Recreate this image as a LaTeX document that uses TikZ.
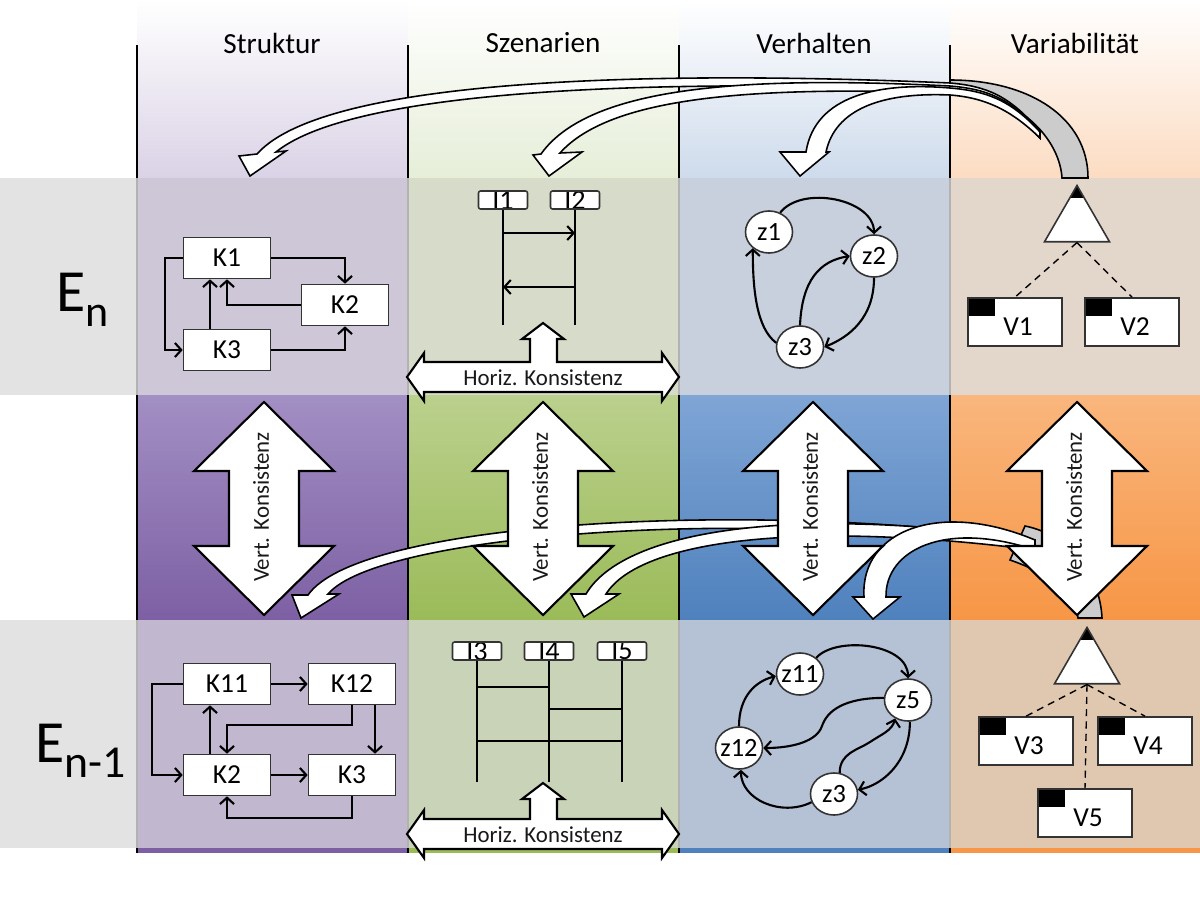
\documentclass[tikz,border=0pt]{standalone}
\usepackage{fontspec}
\setmainfont{Carlito}
\usetikzlibrary{arrows.meta,shapes.geometric}

% column colours: h = header, e = row E_n, t/m = middle band, f = row E_n-1
\definecolor{hpur}{RGB}{218,210,230}
\definecolor{hgrn}{RGB}{230,238,216}
\definecolor{hblu}{RGB}{206,219,236}
\definecolor{hora}{RGB}{252,220,194}
\definecolor{epur}{RGB}{206,199,216}
\definecolor{egrn}{RGB}{214,220,201}
\definecolor{eblu}{RGB}{200,208,221}
\definecolor{eora}{RGB}{227,214,203}
\definecolor{tpur}{RGB}{162,143,195}
\definecolor{tgrn}{RGB}{186,208,141}
\definecolor{tblu}{RGB}{127,165,213}
\definecolor{tora}{RGB}{249,182,125}
\definecolor{mpur}{RGB}{125,96,164}
\definecolor{mgrn}{RGB}{155,187,89}
\definecolor{mblu}{RGB}{79,129,189}
\definecolor{mora}{RGB}{247,150,70}
\definecolor{fpur}{RGB}{193,184,208}
\definecolor{fgrn}{RGB}{201,211,183}
\definecolor{fblu}{RGB}{181,194,214}
\definecolor{fora}{RGB}{224,199,175}
\definecolor{rowgray}{RGB}{227,227,227}

\tikzset{
  hdr/.style={font=\fontsize{8.3}{10}\selectfont, text=black},
  divline/.style={line width=0.8pt, black},
  divfade/.style={line width=0.8pt, black!30},
  kbox/.style={draw=black!80, fill=white, line width=0.45pt, minimum width=0.87cm, minimum height=0.41cm, inner sep=0, font=\fontsize{7.8}{9}\selectfont},
  con/.style={semithick, -{Straight Barb[length=1.8pt,width=4pt]}},
  life/.style={semithick},
  lifebox/.style={draw=black!80, fill=white, line width=0.45pt, rounded corners=0.6pt, minimum width=0.49cm, minimum height=0.18cm, inner sep=0,
    path picture={\node[font=\fontsize{8}{9}\selectfont] at (path picture bounding box.center) {#1};}},
  state/.style={ellipse, draw=black!80, fill=white, line width=0.45pt, minimum width=0.47cm, minimum height=0.42cm, inner sep=0, inner xsep=-1.5pt, font=\fontsize{7.5}{9}\selectfont},
  feat/.style={regular polygon, regular polygon sides=3, draw=black!80, fill=white, line width=0.45pt, minimum size=0.75cm, inner sep=0,
    path picture={\fill[black] ([yshift=-0.13cm]path picture bounding box.north west) rectangle (path picture bounding box.north east);}},
  vbox/.style={draw=black!80, fill=white, line width=0.45pt, minimum width=0.94cm, minimum height=0.48cm, inner sep=0, font=\fontsize{7.8}{9}\selectfont,
    path picture={\fill[black] (path picture bounding box.north west) rectangle ++(0.27cm,-0.18cm);}},
  optline/.style={thin, dash pattern=on 2pt off 1.5pt},
  fatarrow/.style={draw=black, fill=white, line width=0.45pt},
  backband/.style={draw=black, fill=black!20, line width=0.45pt},
  bigarrow/.style={draw=black, fill=white, line width=0.6pt},
  ktext/.style={font=\fontsize{6.5}{8}\selectfont, text=black!90},
  elabel/.style={anchor=base west, inner sep=0, font=\fontsize{17}{20}\selectfont}
}

\begin{document}
\begin{tikzpicture}[x=0.01cm,y=-0.01cm]
\useasboundingbox (0,0) rectangle (1200,900);

% bands
\fill[rowgray] (0,178) rectangle (137,395);
\fill[rowgray] (0,620) rectangle (137,848);
\foreach \xa/\xb/\col in {137/408/pur,408/679/grn,679/950/blu,950/1200/ora}{
  \shade[top color=white,bottom color=h\col] (\xa,0) rectangle (\xb,178);
  \fill[e\col] (\xa,178) rectangle (\xb,395);
  \shade[top color=t\col,bottom color=m\col] (\xa,395) rectangle (\xb,620);
  \fill[f\col] (\xa,620) rectangle (\xb,848);
  \fill[m\col] (\xa,848) rectangle (\xb,853);
}
\foreach \x in {137,408,679,950}{
  \draw[divline] (\x,45) -- (\x,853);
  \draw[divfade] (\x,178) -- (\x,395);
  \draw[divfade] (\x,620) -- (\x,848);
}

% headers and rows
\foreach \x/\t/\n in {272/Struktur/hs,543/Szenarien/hz,814/Verhalten/hv,1075/Variabilität/hw}
  \node[hdr] (\n) at (\x,43) {\t};
\node[elabel] (en) at (56,311) {E\raisebox{-4.5pt}{\fontsize{12.5}{14}\selectfont n}};
\node[elabel] (enm) at (35,762) {E\raisebox{-4.5pt}{\fontsize{13}{14}\selectfont n-1}};

% curved arrows, top
\filldraw[backband] (950,80) .. controls (1030,80) and (1088,118) .. (1088,178) -- (1062,178) .. controls (1060,145) and (1030,100) .. (950,84) -- cycle;
\filldraw[fatarrow] (1040,132) .. controls (1010,95) and (985,86) .. (950,83) .. controls (700,72) and (330,72) .. (257,154) -- (239,156) -- (250,176) -- (286,151) -- (276,152) .. controls (360,84) and (700,80) .. (950,90) .. controls (990,93) and (1015,110) .. (1040,138) -- cycle;
\filldraw[fatarrow] (1040,132) .. controls (1010,97) and (985,89) .. (950,86) .. controls (750,76) and (590,85) .. (541,154) -- (533,155) -- (549,176) -- (582,152) -- (560,153) .. controls (610,97) and (750,86) .. (950,93) .. controls (990,96) and (1015,112) .. (1040,138) -- cycle;
\filldraw[fatarrow] (1040,132) .. controls (1010,99) and (985,91) .. (950,88) .. controls (880,82) and (815,95) .. (806,152) -- (780,152) -- (800,176) -- (829,152) -- (826,152) .. controls (835,110) and (880,92) .. (950,95) .. controls (990,98) and (1015,114) .. (1040,138) -- cycle;

% curved arrows, middle
\filldraw[backband] (1102,618) .. controls (1100,575) and (1070,535) .. (1025,526) -- (1010,560) .. controls (1045,572) and (1076,592) .. (1078,618) -- cycle;
\filldraw[fatarrow] (1035,540) .. controls (760,500) and (360,520) .. (308,595) -- (292,595) -- (301,618) -- (339,594) -- (328,594) .. controls (380,533) and (760,506) .. (1035,550) -- cycle;
\filldraw[fatarrow] (1035,540) .. controls (800,505) and (625,528) .. (586,594) -- (571,594) -- (584,617) -- (619,594) -- (606,594) .. controls (640,540) and (800,520) .. (1035,550) -- cycle;
\filldraw[fatarrow] (1035,540) .. controls (940,500) and (860,530) .. (864,597) -- (853,597) -- (873,619) -- (900,597) -- (886,597) .. controls (885,550) and (945,520) .. (1035,550) -- cycle;

% vertical consistency
\foreach \c/\n in {264/vks,543/vkz,813/vkv,1077/vkw}{
  \filldraw[bigarrow] (\c,402) -- (\c+70,471) -- (\c+35,471) -- (\c+35,546) -- (\c+70,546) -- (\c,615) -- (\c-70,546) -- (\c-35,546) -- (\c-35,471) -- (\c-70,471) -- cycle;
  \node[ktext,rotate=90] (\n) at (\c-3,507) {Vert. Konsistenz};
}

% horizontal consistency
\foreach \y/\t/\n in {377/323/hk1,834/783/hk2}{
  \filldraw[bigarrow] (407,\y) -- (424,\y-24) -- (424,\y-15) -- (530,\y-15) -- (530,\t+16) -- (522,\t+16) -- (543,\t) -- (564,\t+16) -- (557,\t+16) -- (557,\y-15) -- (662,\y-15) -- (662,\y-24) -- (679,\y) -- (662,\y+24) -- (662,\y+15) -- (424,\y+15) -- (424,\y+24) -- cycle;
  \node[ktext] (\n) at (543,\y+1) {Horiz. Konsistenz};
}

% Struktur, E_n
\node[kbox] (k1) at (227,258) {K1};
\node[kbox] (k2) at (345,305) {K2};
\node[kbox] (k3) at (227,350) {K3};
\draw[con] (k1.east) -| (k2.north);
\draw[con] (k2.west) -| (k1.south);
\draw[con] ([xshift=-0.17cm]k3.north) -- ([xshift=-0.17cm]k1.south);
\draw[con] (k1.west) -- ++(-18,0) |- (k3.west);
\draw[con] (k3.east) -| (k2.south);

% Struktur, E_n-1
\node[kbox] (k11) at (227,684) {K11};
\node[kbox] (k12) at (352,684) {K12};
\node[kbox] (k2b) at (227,775) {K2};
\node[kbox] (k3b) at (352,775) {K3};
\draw[con] (k11.east) -- (k12.west);
\draw[con] (k11.west) -- ++(-31,0) |- (k2b.west);
\draw[con] ([xshift=-0.17cm]k2b.north) -- ([xshift=-0.17cm]k11.south);
\draw[con] (k12.south) -- ++(0,20) -| (k2b.north);
\draw[con] ([xshift=0.23cm]k12.south) -- ([xshift=0.23cm]k3b.north);
\draw[con] (k2b.east) -- (k3b.west);
\draw[con] (k3b.south) -- ++(0,22) -| (k2b.south);

% Szenarien, E_n
\node[lifebox=I1] (i1) at (503,200) {};
\node[lifebox=I2] (i2) at (575,200) {};
\coordinate (le1) at (0,325);
\coordinate (m1) at (0,233);
\coordinate (m2) at (0,287);
\draw[life] (i1.south) -- (i1.south |- le1);
\draw[life] (i2.south) -- (i2.south |- le1);
\draw[con] (i1.south |- m1) -- (i2.south |- m1);
\draw[con] (i2.south |- m2) -- (i1.south |- m2);

% Szenarien, E_n-1
\node[lifebox=I3] (i3) at (477,651) {};
\node[lifebox=I4] (i4) at (549,651) {};
\node[lifebox=I5] (i5) at (622,651) {};
\coordinate (le2) at (0,782);
\coordinate (m3) at (0,687);
\coordinate (m4) at (0,709);
\coordinate (m5) at (0,741);
\foreach \i in {i3,i4,i5}
  \draw[life] (\i.south) -- (\i.south |- le2);
\draw[life] (i3.south |- m3) -- (i4.south |- m3);
\draw[life] (i4.south |- m4) -- (i5.south |- m4);
\draw[life] (i3.south |- m5) -- (i5.south |- m5);

% Verhalten, E_n
\node[state] (z1) at (769,232) {z1};
\node[state] (z2) at (874,256) {z2};
\node[state] (z3) at (800,347) {z3};
\draw[con] (z1.60) .. controls +(22,-28) and +(0,-35) .. (z2.90);
\draw[con] (z3.90) .. controls +(2,-45) and +(-30,5) .. (z2.180);
\draw[con] (z2.270) .. controls +(0,40) and +(25,-10) .. (z3.0);
\draw[con] (z3.170) .. controls +(-20,-15) and +(0,40) .. (z1.225);

% Verhalten, E_n-1
\node[state] (z11) at (800,674) {z11};
\node[state] (z5) at (908,700) {z5};
\node[state] (z12) at (739,748) {z12};
\node[state] (z3b) at (834,794) {z3};
\draw[con] (z11.45) .. controls +(20,-22) and +(0,-35) .. (z5.90);
\draw[con] (z12.90) .. controls +(0,-30) and +(-20,5) .. (z11.185);
\draw[con] (z5.175) .. controls +(-40,0) and +(5,-15) .. (822,726) .. controls +(-5,15) and +(30,0) .. (z12.0);
\draw[con] (z3b.75) .. controls +(0,-20) and +(-12,8) .. (870,742) .. controls +(12,-8) and +(-3,12) .. (z5.235);
\draw[con] (z5.275) .. controls +(0,40) and +(25,-5) .. (z3b.10);
\draw[con] (z3b.200) .. controls +(-30,15) and +(0,30) .. (z12.275);

% Variabilitaet, E_n
\node[feat] (f1) at (1077,223) {};
\node[vbox] (v1) at (1015,322) {\hspace{1.7pt}\raisebox{-3.9pt}[0pt][0pt]{V1}};
\node[vbox] (v2) at (1132,322) {\hspace{1.7pt}\raisebox{-3.9pt}[0pt][0pt]{V2}};
\draw[optline] (f1.south) -- (v1.north);
\draw[optline] (f1.south) -- (v2.north);

% Variabilitaet, E_n-1
\node[feat] (f2) at (1087,665) {};
\node[vbox] (v3) at (1026,741) {\hspace{1.7pt}\raisebox{-3.9pt}[0pt][0pt]{V3}};
\node[vbox] (v4) at (1145,741) {\hspace{1.7pt}\raisebox{-3.9pt}[0pt][0pt]{V4}};
\node[vbox] (v5) at (1085,813) {\hspace{1.7pt}\raisebox{-3.9pt}[0pt][0pt]{V5}};
\draw[optline] (f2.south) -- (v3.north);
\draw[optline] (f2.south) -- (v4.north);
\draw[optline] (f2.south) -- (v5.north);

\end{tikzpicture}
\end{document}
